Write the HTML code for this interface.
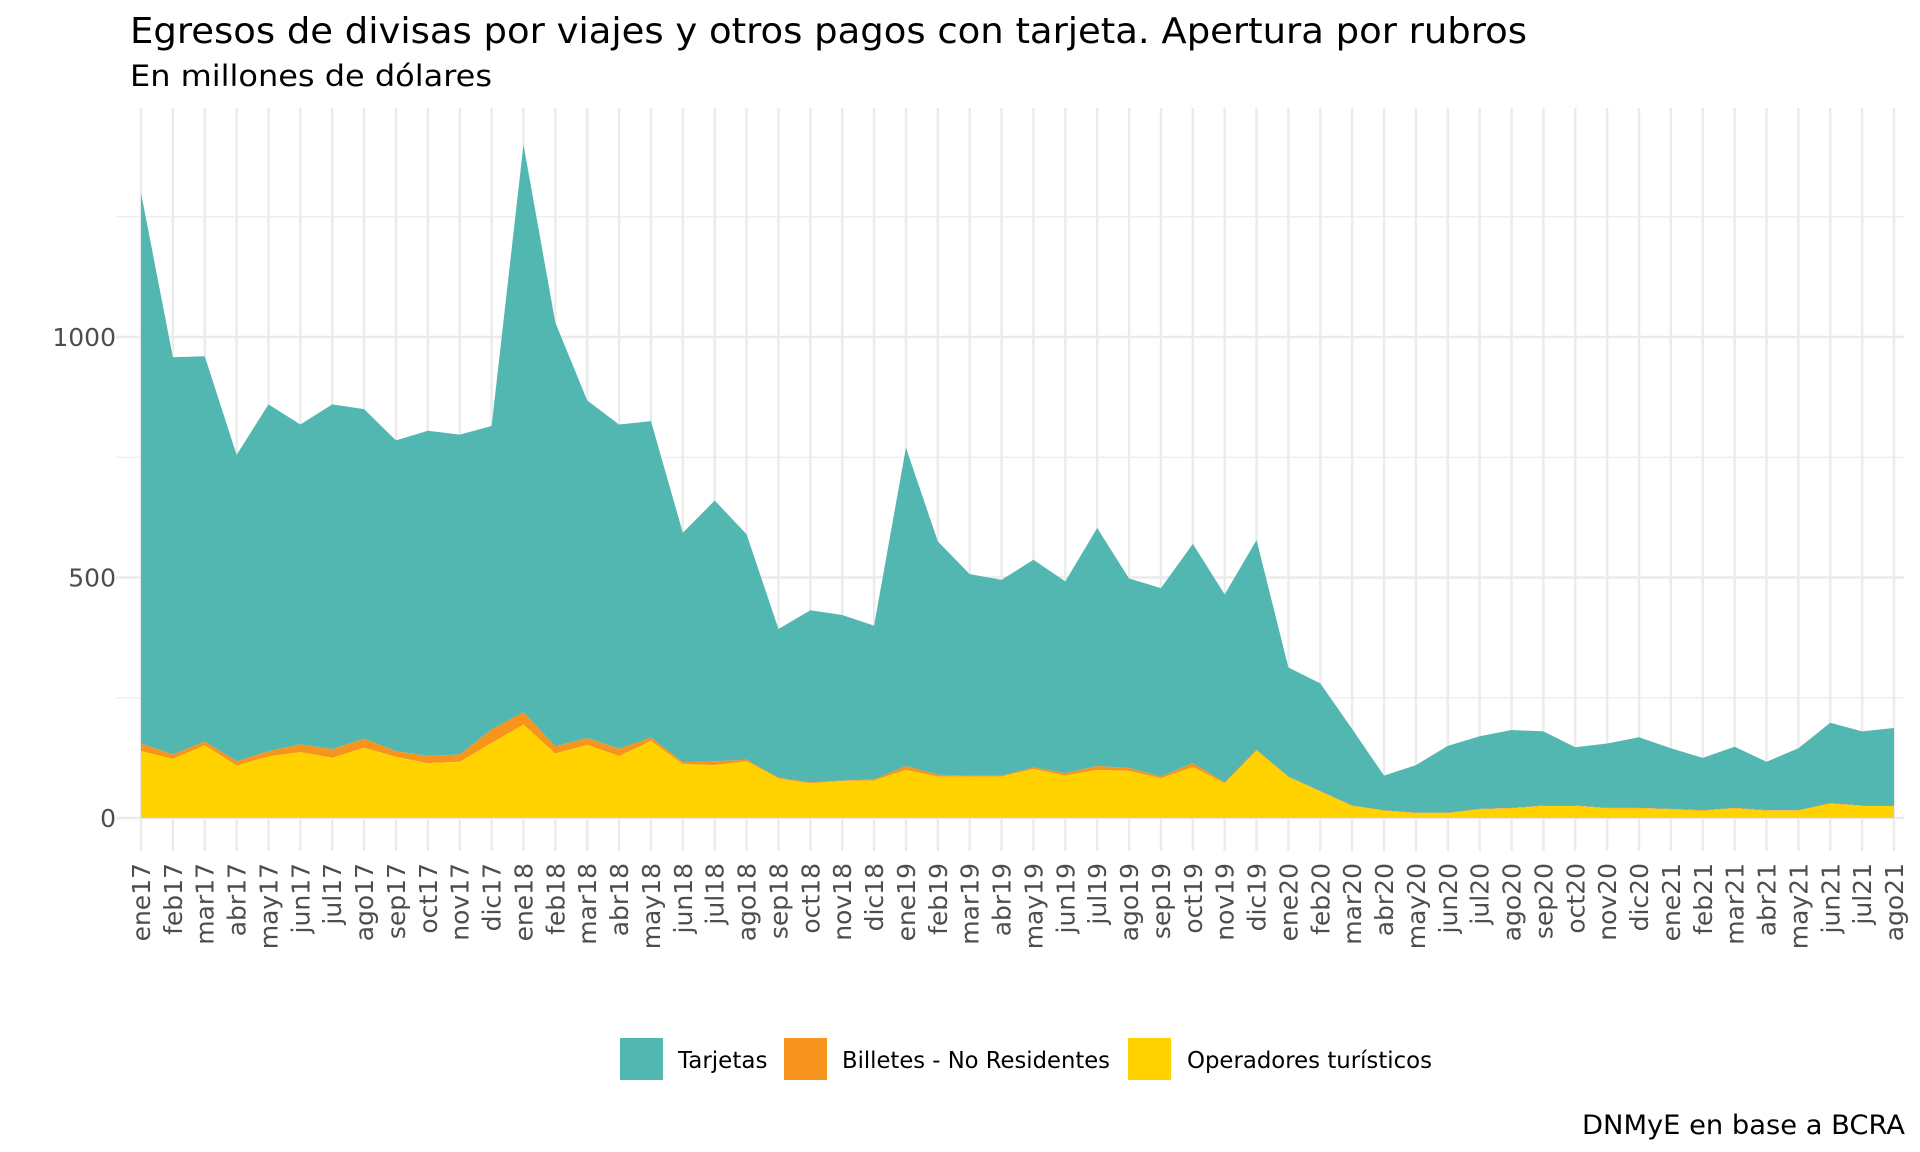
<!DOCTYPE html>
<html><head><meta charset="utf-8"><style>
html,body{margin:0;padding:0;background:#fff;}
svg{display:block;font-family:"DejaVu Sans","Liberation Sans",sans-serif;}
</style></head><body>
<svg id="chart" width="1920" height="1152" viewBox="0 0 1920 1152" xmlns="http://www.w3.org/2000/svg">
<rect width="1920" height="1152" fill="#fff"/>
<text x="130" y="43" font-size="36" fill="#000" textLength="1397" lengthAdjust="spacingAndGlyphs">Egresos de divisas por viajes y otros pagos con tarjeta. Apertura por rubros</text>
<text x="130" y="86" font-size="29" fill="#000" textLength="362" lengthAdjust="spacingAndGlyphs">En millones de dólares</text>
<g id="grid"></g>
<g id="areas"></g>
<g id="yticks"></g>
<g id="xticks"></g>
<g>
<rect x="620" y="1038" width="43" height="42" fill="#52b7b0"/>
<text x="678" y="1068" font-size="23" fill="#000">Tarjetas</text>
<rect x="784" y="1038" width="43" height="42" fill="#f7941d"/>
<text x="842" y="1068" font-size="23" fill="#000" textLength="268" lengthAdjust="spacingAndGlyphs">Billetes - No Residentes</text>
<rect x="1128" y="1038" width="43" height="42" fill="#ffd200"/>
<text x="1187" y="1068" font-size="23" fill="#000" textLength="245" lengthAdjust="spacingAndGlyphs">Operadores turísticos</text>
</g>
<text x="1905" y="1134" font-size="27" fill="#000" text-anchor="end" textLength="323" lengthAdjust="spacingAndGlyphs">DNMyE en base a BCRA</text>
</svg>
<script>
const months = ["ene17","feb17","mar17","abr17","may17","jun17","jul17","ago17","sep17","oct17","nov17","dic17",
"ene18","feb18","mar18","abr18","may18","jun18","jul18","ago18","sep18","oct18","nov18","dic18",
"ene19","feb19","mar19","abr19","may19","jun19","jul19","ago19","sep19","oct19","nov19","dic19",
"ene20","feb20","mar20","abr20","may20","jun20","jul20","ago20","sep20","oct20","nov20","dic20",
"ene21","feb21","mar21","abr21","may21","jun21","jul21","ago21"];
const operadores = [139,123,151,109,128,137,125,146,127,114,117,156,
194,134,152,129,160,112,110,118,82,72,77,78,
100,86,86,86,102,88,100,98,82,106,72,140,
85,55,25,15,10,10,18,20,25,25,20,20,
18,15,20,15,15,30,25,25];
const billetes = [16,9,8,9,11,16,18,19,12,15,15,28,
26,15,14,15,7,4,8,3,2,2,1,2,
8,4,2,2,3,5,8,6,4,8,2,2,
1,1,1,1,1,1,1,1,1,1,1,1,
1,1,1,1,1,1,1,1];
const tarjetas = [1145,826,801,637,721,665,717,685,646,676,665,631,
1180,881,702,674,658,477,542,469,309,358,344,320,
662,485,419,407,432,399,495,394,392,456,391,436,
227,224,159,72,99,139,151,162,154,121,134,147,
126,109,127,101,129,167,154,161];
const yTicks = [0,500,1000];
const yMinor = [250,750,1250];

const NS="http://www.w3.org/2000/svg";
const X0=141, X1=1894, Y0=818, PX=0.481;
const xs = i => X0 + i*(X1-X0)/(months.length-1);
const ys = v => Y0 - v*PX;
function mk(tag, attrs, parent){const e=document.createElementNS(NS,tag);for(const k in attrs)e.setAttribute(k,attrs[k]);parent.appendChild(e);return e;}

const grid=document.getElementById('grid');
yMinor.forEach(v=>{const l=mk('line',{x1:116,x2:1904,y1:ys(v),y2:ys(v),stroke:'#ebebeb','stroke-width':1.2},grid);

});
yTicks.forEach(v=>{const l=mk('line',{x1:116,x2:1904,y1:ys(v),y2:ys(v),stroke:'#ebebeb','stroke-width':2.4},grid);

});
months.forEach((m,i)=>{const l=mk('line',{x1:xs(i),x2:xs(i),y1:108,y2:851,stroke:'#ebebeb','stroke-width':2.4},grid);

});

const areas=document.getElementById('areas');
const c1=operadores, c2=operadores.map((v,i)=>v+billetes[i]), c3=c2.map((v,i)=>v+tarjetas[i]);
function band(lo,hi,color,name){
  let d='M'+xs(0)+','+ys(hi[0]);
  for(let i=1;i<hi.length;i++) d+=' L'+xs(i)+','+ys(hi[i]);
  for(let i=lo.length-1;i>=0;i--) d+=' L'+xs(i)+','+ys(lo[i]);
  const p=mk('path',{d:d+' Z',fill:color},areas);
  
  
}
const zeros=months.map(()=>0);
band(c2,c3,'#52b7b0','area-tarjetas');
band(c1,c2,'#f7941d','area-billetes');
band(zeros,c1,'#ffd200','area-operadores');

const yt=document.getElementById('yticks');
yTicks.forEach(v=>{const t=mk('text',{x:116,y:ys(v)+9,'font-size':25,fill:'#4d4d4d','text-anchor':'end'},yt);t.textContent=v;

});
const xt=document.getElementById('xticks');
months.forEach((m,i)=>{const x=xs(i)+9,y=863;const t=mk('text',{x:x,y:y,'font-size':25,fill:'#4d4d4d','text-anchor':'end',transform:'rotate(-90 '+x+' '+y+')'},xt);t.textContent=m;

});
</script>
</body></html>
